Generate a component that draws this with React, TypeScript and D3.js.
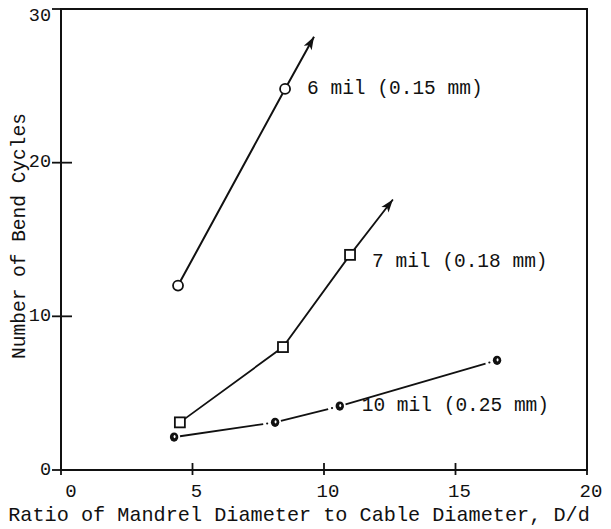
import React from "react";
import * as d3 from "d3";

const xTicks = [0, 5, 10, 15, 20];
const yTicks = [0, 10, 20, 30];

const ratio6 = [4.45, 8.52];
const cycles6 = [12.0, 24.8];
const arrow6 = [9.62, 28.2];

const ratio7 = [4.52, 8.44, 10.99];
const cycles7 = [3.1, 8.0, 14.0];
const arrow7 = [12.62, 17.6];

const ratio10 = [4.3, 8.14, 10.6, 16.58];
const cycles10 = [2.14, 3.1, 4.16, 7.14];

const label6 = "6 mil (0.15 mm)";
const label7 = "7 mil (0.18 mm)";
const label10 = "10 mil (0.25 mm)";
const xTitle = "Ratio of Mandrel Diameter to Cable Diameter, D/d";
const yTitle = "Number of Bend Cycles";

const W = 611;
const H = 529;
const FONT = "'Liberation Mono', 'DejaVu Sans Mono', monospace";

export default function App() {
  const x = d3.scaleLinear().domain([0, 20]).range([61, 587]);
  const y = d3.scaleLinear().domain([0, 30]).range([470, 9]);
  const line = d3
    .line<[number, number]>()
    .x((d) => x(d[0]))
    .y((d) => y(d[1]));

  const pts6: [number, number][] = ratio6.map((r, i) => [r, cycles6[i]]);
  const pts7: [number, number][] = ratio7.map((r, i) => [r, cycles7[i]]);
  const pts10: [number, number][] = ratio10.map((r, i) => [r, cycles10[i]]);

  const arrowHead = (from: [number, number], to: [number, number]) => {
    const x1 = x(from[0]), y1 = y(from[1]);
    const x2 = x(to[0]), y2 = y(to[1]);
    const ang = Math.atan2(y2 - y1, x2 - x1);
    const L = 13, Wd = 4.5;
    const bx = x2 - L * Math.cos(ang), by = y2 - L * Math.sin(ang);
    const px = -Math.sin(ang), py = Math.cos(ang);
    return `M${x2},${y2}L${bx + px * Wd},${by + py * Wd}L${bx + (x2 - bx) * 0.25},${by + (y2 - by) * 0.25}L${bx - px * Wd},${by - py * Wd}Z`;
  };

  const lastOf = <T,>(a: T[]) => a[a.length - 1];

  // dash-dot segments for 10 mil
  const segs10 = pts10.slice(0, -1).map((p, i) => {
    const q = pts10[i + 1];
    const x1 = x(p[0]), y1 = y(p[1]), x2 = x(q[0]), y2 = y(q[1]);
    const len = Math.hypot(x2 - x1, y2 - y1);
    const ux = (x2 - x1) / len, uy = (y2 - y1) / len;
    return {
      a: [x1 + ux * 6, y1 + uy * 6],
      b: [x2 - ux * 12, y2 - uy * 12],
      dot: [x2 - ux * 8, y2 - uy * 8],
    };
  });

  const axisX = x(0);
  const axisY = y(0);

  return (
    <svg
      width={W}
      height={H}
      style={{ position: "absolute", left: 0, top: 0, background: "#fff" }}
      fontFamily={FONT}
    >
      <rect x={0} y={0} width={W} height={H} fill="#fff" />
      {/* frame */}
      <rect
        x={x(0)}
        y={y(30)}
        width={x(20) - x(0)}
        height={y(0) - y(30)}
        fill="none"
        stroke="#111"
        strokeWidth={2}
      />
      {/* y ticks */}
      {yTicks.map((t) => (
        <g key={"y" + t}>
          <line x1={axisX - 9} x2={axisX + (t === 0 || t === 30 ? 0 : 11)} y1={y(t)} y2={y(t)} stroke="#111" strokeWidth={1.8} />
          <text
            x={axisX - 10}
            y={y(t) + (t === 30 ? 7 : 0)}
            textAnchor="end"
            dominantBaseline="central"
            fontSize={18.5}
            fill="#111"
          >
            {t}
          </text>
        </g>
      ))}
      {/* x ticks */}
      {xTicks.map((t) => (
        <g key={"x" + t}>
          <line x1={x(t)} x2={x(t)} y1={axisY - (t === 0 || t === 20 ? 0 : 7)} y2={axisY + 5} stroke="#111" strokeWidth={1.8} />
          <text x={x(t) + (t === 0 ? 10 : 4)} y={axisY + 27} textAnchor="middle" fontSize={19} fill="#111">
            {t}
          </text>
        </g>
      ))}
      {/* axis titles */}
      <text x={299} y={521} textAnchor="middle" fontSize={20.2} fill="#111">
        {xTitle}
      </text>
      <text
        transform={`translate(20,236) rotate(-90)`}
        textAnchor="middle"
        dominantBaseline="central"
        fontSize={19.5}
        fill="#111"
      >
        {yTitle}
      </text>

      {/* 6 mil */}
      <path d={line([...pts6, [arrow6[0], arrow6[1]]]) || ""} fill="none" stroke="#111" strokeWidth={2} />
      <path d={arrowHead(lastOf(pts6), [arrow6[0], arrow6[1]])} fill="#111" />
      {pts6.map((p, i) => (
        <circle key={"c6" + i} cx={x(p[0])} cy={y(p[1])} r={5} fill="#fff" stroke="#111" strokeWidth={1.8} />
      ))}
      <text x={x(lastOf(pts6)[0]) + 22} y={y(lastOf(pts6)[1])} dominantBaseline="central" fontSize={19.5} fill="#111">
        {label6}
      </text>

      {/* 7 mil */}
      <path d={line([...pts7, [arrow7[0], arrow7[1]]]) || ""} fill="none" stroke="#111" strokeWidth={1.8} />
      <path d={arrowHead(lastOf(pts7), [arrow7[0], arrow7[1]])} fill="#111" />
      {pts7.map((p, i) => (
        <rect key={"s7" + i} x={x(p[0]) - 5} y={y(p[1]) - 5} width={10} height={10} fill="#fff" stroke="#111" strokeWidth={1.8} />
      ))}
      <text x={x(lastOf(pts7)[0]) + 22} y={y(lastOf(pts7)[1]) + 7} dominantBaseline="central" fontSize={19.5} fill="#111">
        {label7}
      </text>

      {/* 10 mil */}
      {segs10.map((s, i) => (
        <g key={"l10" + i}>
          <line x1={s.a[0]} y1={s.a[1]} x2={s.b[0]} y2={s.b[1]} stroke="#111" strokeWidth={1.8} />
          <circle cx={s.dot[0]} cy={s.dot[1]} r={1.1} fill="#111" />
        </g>
      ))}
      {pts10.map((p, i) => (
        <g key={"d10" + i}>
          <ellipse cx={x(p[0])} cy={y(p[1])} rx={4.2} ry={4.6} fill="#111" />
          <ellipse cx={x(p[0]) + 0.5} cy={y(p[1]) - 0.5} rx={1} ry={1.6} fill="#fff" />
        </g>
      ))}
      <text x={x(ratio10[2]) + 22} y={y(cycles10[2])} dominantBaseline="central" fontSize={19.5} fill="#111">
        {label10}
      </text>
    </svg>
  );
}
